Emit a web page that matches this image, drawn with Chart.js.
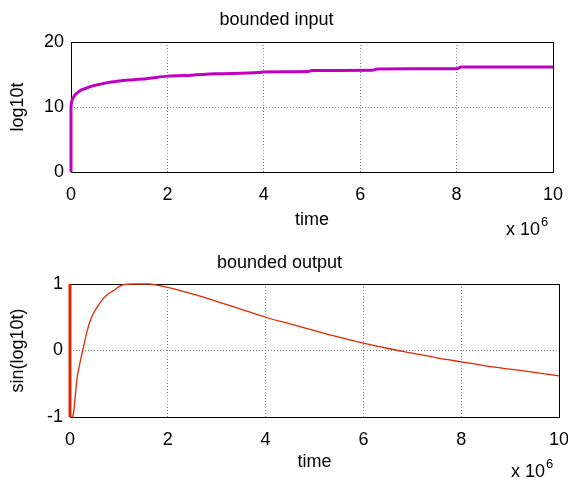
<!DOCTYPE html>
<html>
<head>
<meta charset="utf-8">
<script src="https://cdn.jsdelivr.net/npm/chart.js@4/dist/chart.umd.min.js"></script>
<style>
  body { margin: 0; background: #fff; }
  .box { position: absolute; left: 0; width: 568px; height: 240px; }
</style>
</head>
<body>
<div class="box" style="top:0"><canvas id="top"></canvas></div>
<div class="box" style="top:240px"><canvas id="bottom"></canvas></div>
<script>
// time values are in units of 10^6
const inputTime = [0, 0, 0.01, 0.03, 0.06, 0.1, 0.15, 0.2, 0.3, 0.45, 0.6, 0.8, 1.0, 1.3, 1.6, 2.0, 2.5, 3.0, 3.9, 4.0, 4.9, 5.0, 6.25, 6.35, 8.0, 8.1, 10];
const inputVals = [0, 10, 10.7, 11.2, 11.6, 12.0, 12.3, 12.55, 12.85, 13.25, 13.5, 13.8, 14.0, 14.2, 14.4, 14.75, 14.9, 15.1, 15.3, 15.4, 15.45, 15.6, 15.65, 15.85, 15.9, 16.15, 16.15];

const outputTime = [0, 0, 0.03, 0.07, 0.1, 0.14, 0.2, 0.26, 0.34, 0.4, 0.48, 0.58, 0.68, 0.78, 0.89, 1.0, 1.1, 1.3, 1.6, 1.8, 2.0, 2.5, 3.0, 3.5, 4.0, 4.5, 5.0, 5.5, 6.0, 6.5, 7.0, 7.5, 8.0, 8.5, 9.0, 9.5, 10];
const outputVals = [1, -1, -1, -0.95, -0.75, -0.44, -0.2, 0, 0.26, 0.42, 0.56, 0.68, 0.78, 0.85, 0.9, 0.96, 0.99, 1.0, 1.0, 0.98, 0.95, 0.85, 0.74, 0.62, 0.5, 0.4, 0.3, 0.2, 0.11, 0.03, -0.04, -0.11, -0.17, -0.23, -0.28, -0.33, -0.38];

const xTicks = [0, 2, 4, 6, 8, 10];
const inputTicks = [0, 10, 20];
const outputTicks = [-1, 0, 1];

const font = 'Liberation Sans, Arial, sans-serif';

// black box round the plot, drawn under the line like MATLAB
const frame = {
  id: 'frame',
  beforeDatasetsDraw(chart) {
    const {ctx, chartArea: a} = chart;
    ctx.save();
    ctx.strokeStyle = '#000';
    ctx.lineWidth = 1;
    ctx.strokeRect(a.left + 0.5, a.top + 0.5, a.right - a.left, a.bottom - a.top);
    ctx.restore();
  },
  afterDraw(chart, args, opts) {
    // "x 10^6" exponent label
    const ctx = chart.ctx;
    ctx.save();
    ctx.fillStyle = '#000';
    ctx.textBaseline = 'alphabetic';
    ctx.font = '18px ' + font;
    ctx.fillText('x 10', opts.ex, opts.ey);
    const w = ctx.measureText('x 10').width;
    ctx.font = '13px ' + font;
    ctx.fillText('6', opts.ex + w + 1, opts.ey - 9);
    ctx.restore();
  }
};

function makeChart(id, xs, ys, color, width, yTicks, title, ylabel, area, ex, ey) {
  const pts = xs.map((x, i) => ({x: x, y: ys[i]}));
  return new Chart(document.getElementById(id), {
    type: 'scatter',
    data: { datasets: [{ data: pts, showLine: true, borderColor: color, borderWidth: width, pointRadius: 0,
                         cubicInterpolationMode: 'monotone', clip: 4,
                         // the fast swing at t=0 shows as a thick stroke on the axis
                         segment: { borderWidth: c => c.p0DataIndex === 0 ? 3 : width } }] },
    options: {
      responsive: true,
      maintainAspectRatio: false,
      animation: false,
      layout: { padding: { left: 0, right: 568 - area.right, top: 0, bottom: 0 } },
      plugins: {
        legend: { display: false },
        tooltip: { enabled: false },
        title: { display: true, text: title, color: '#000', font: { family: font, size: 18, weight: 'normal' },
                 padding: { top: area.tpad, bottom: area.top - area.tpad - 21.6 } },
        frame: { ex: ex, ey: ey }
      },
      scales: {
        x: {
          type: 'linear', min: 0, max: 10,
          afterBuildTicks: s => { s.ticks = xTicks.map(v => ({value: v})); },
          afterFit: s => { s.height = 240 - area.bottom; s.paddingLeft = 0; s.paddingRight = 0; },
          border: { display: false, dash: [1, 2] },
          grid: { color: '#808080', drawTicks: false },
          ticks: { color: '#000', padding: 12, font: { family: font, size: 18 }, maxRotation: 0 },
          title: { display: true, text: 'time', color: '#000', font: { family: font, size: 18 }, padding: { bottom: area.tb } }
        },
        y: {
          min: yTicks[0], max: yTicks[yTicks.length - 1],
          afterBuildTicks: s => { s.ticks = yTicks.map(v => ({value: v})); },
          afterFit: s => { s.width = area.left; s.paddingTop = 0; s.paddingBottom = 0; },
          border: { display: false, dash: [1, 2] },
          grid: { color: '#808080', drawTicks: false },
          ticks: { color: '#000', padding: 7, font: { family: font, size: 18 } },
          title: { display: true, text: ylabel, color: '#000', font: { family: font, size: 18 }, padding: { top: 7 } }
        }
      }
    },
    plugins: [frame]
  });
}

makeChart('top', inputTime, inputVals, '#c000c0', 3, inputTicks, 'bounded input', 'log10t',
  { left: 71, right: 553, top: 42, bottom: 172, tpad: 9, tb: 9 }, 506, 235);
makeChart('bottom', outputTime, outputVals, '#e02800', 1.3, outputTicks, 'bounded output', 'sin(log10t)',
  { left: 70, right: 559, top: 44, bottom: 177, tpad: 12, tb: 7 }, 511, 237);
</script>
</body>
</html>
